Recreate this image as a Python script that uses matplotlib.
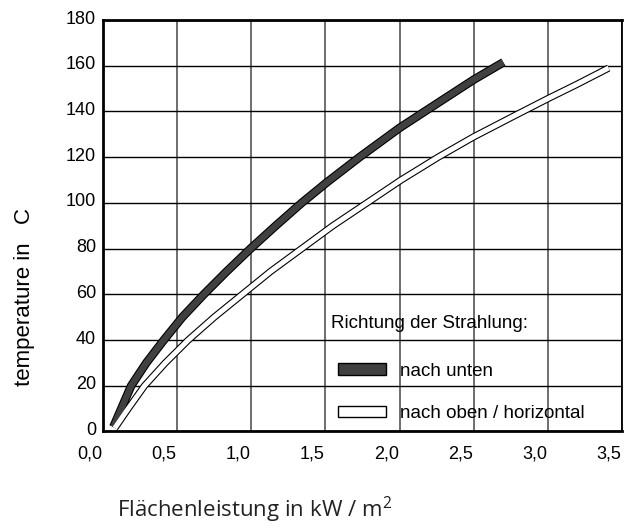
import matplotlib
matplotlib.use("Agg")
import matplotlib.pyplot as plt
import matplotlib.transforms as mtransforms
from matplotlib.patches import Patch

# ---- data ----
x_unten = [0.07, 0.19, 0.292, 0.41, 0.535, 0.68, 0.834, 0.995, 1.165, 1.34,
           1.51, 1.73, 2.0, 2.17, 2.5, 2.70]
y_unten = [2, 20, 30, 40, 50, 60, 70, 80, 90, 100,
           109, 120, 132.8, 140, 153.9, 161.5]

x_oben = [0.08, 0.17, 0.28, 0.42, 0.575, 0.75, 0.94, 1.13, 1.34, 1.55,
          1.78, 2.01, 2.26, 2.5, 2.75, 3.0, 3.2, 3.41]
y_oben = [1.5, 10, 20, 30, 40, 50, 60, 70, 80, 90,
          100, 110, 120, 128.9, 137.3, 145.6, 152, 159]

x_ticks = [0.0, 0.5, 1.0, 1.5, 2.0, 2.5, 3.0, 3.5]
x_ticklabels = ["0,0", "0,5", "1,0", "1,5", "2,0", "2,5", "3,0", "3,5"]
y_ticks = [0, 20, 40, 60, 80, 100, 120, 140, 160, 180]

legend_title = "Richtung der Strahlung:"
legend_labels = ["nach unten", "nach oben / horizontal"]

plt.rcParams["font.family"] = ["Liberation Sans", "DejaVu Sans"]

fig = plt.figure(figsize=(6.25, 5.31), dpi=100)
ax = fig.add_axes([0.1648, 0.1874, 0.8304, 0.7749])

# curves: dark band with black edge, white band with black edge
kw = dict(solid_capstyle="butt", solid_joinstyle="round")
ax.plot(x_unten, y_unten, color="black", lw=6.2, zorder=3, **kw)
ax.plot(x_unten, y_unten, color="#404040", lw=4.6, zorder=4, **kw)
ax.plot(x_oben, y_oben, color="black", lw=5.2, zorder=3, **kw)
ax.plot(x_oben, y_oben, color="white", lw=3.6, zorder=4, **kw)

ax.set_xlim(0, 3.5)
ax.set_ylim(0, 180)
ax.set_xticks(x_ticks)
ax.set_xticklabels(x_ticklabels)
ax.set_yticks(y_ticks)

ax.grid(True, axis="x", color="#555555", lw=1.2)
ax.grid(True, axis="y", color="black", lw=1.0)
ax.set_axisbelow(True)

for side in ["left", "bottom", "top"]:
    ax.spines[side].set_linewidth(2.0)
ax.spines["right"].set_linewidth(1.3)

ax.tick_params(length=0, labelsize=13)
ax.tick_params(axis="x", pad=10)
ax.tick_params(axis="y", pad=5)

# x tick labels in the reference sit slightly left of the gridlines
offset = mtransforms.ScaledTranslation(-13 / 100, 0, fig.dpi_scale_trans)
for lab in ax.get_xticklabels():
    lab.set_transform(lab.get_transform() + offset)
offy = mtransforms.ScaledTranslation(0, 3 / 100, fig.dpi_scale_trans)
for lab in ax.get_yticklabels():
    lab.set_transform(lab.get_transform() + offy)

handles = [Patch(facecolor="#404040", edgecolor="black", lw=1.0),
           Patch(facecolor="white", edgecolor="black", lw=1.0)]
leg = ax.legend(handles, legend_labels, title=legend_title, frameon=False,
                fontsize=13.5, title_fontsize=13.5, alignment="left",
                handlelength=2.56, handleheight=0.59, handletextpad=0.75,
                labelspacing=1.36, borderaxespad=0.0, borderpad=0.0,
                loc="upper left", bbox_to_anchor=(0.453, 0.2706))
leg.get_title().set_position((-7, 5))

fig.text(0.04, 1 - 297 / 531, "temperature in   C", rotation=90, ha="center",
         va="center", fontsize=16)
fig.text(255 / 625, 1 - 510 / 531, r"Flächenleistung in kW / m$^{\mathregular{2}}$",
         ha="center", va="center", fontsize=16, family=["Open Sans", "DejaVu Sans"],
         color="#222222")

fig.savefig("out.png", dpi=100)
